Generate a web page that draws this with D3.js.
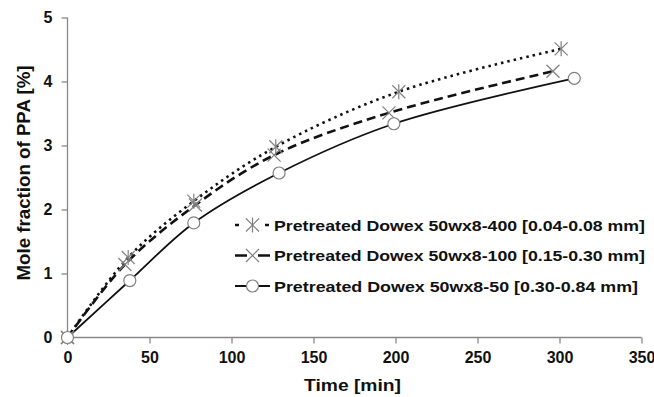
<!DOCTYPE html>
<html>
<head>
<meta charset="utf-8">
<script src="https://cdn.jsdelivr.net/npm/d3@7"></script>
<style>
  body { margin: 0; background: #fff; }
  svg text { font-family: "Liberation Sans", Arial, sans-serif; font-weight: bold; fill: #111; }
  .axis path, .axis line { stroke: #888; stroke-width: 1.3; }
</style>
</head>
<body>
<div id="chart-area"><svg></svg></div>
<script>
const chartSize = { width: 654, height: 397 };
const margin = { left: 67.5, right: 12.5, top: 17.5, bottom: 59.5 };
const width = chartSize.width - margin.left - margin.right;
const height = chartSize.height - margin.top - margin.bottom;

const xTicks = [0, 50, 100, 150, 200, 250, 300, 350];
const yTicks = [0, 1, 2, 3, 4, 5];

const seriesNames = [
  "Pretreated Dowex 50wx8-400 [0.04-0.08 mm]",
  "Pretreated Dowex 50wx8-100 [0.15-0.30 mm]",
  "Pretreated Dowex 50wx8-50 [0.30-0.84 mm]"
];
const time400 = [0, 37, 77, 127, 202, 301];
const frac400 = [0, 1.25, 2.13, 2.98, 3.84, 4.51];
const time100 = [0, 35, 78, 126, 196, 296];
const frac100 = [0, 1.14, 2.07, 2.85, 3.51, 4.16];
const time50 = [0, 38, 77, 129, 199, 309];
const frac50 = [0, 0.89, 1.79, 2.57, 3.34, 4.05];

const series = [
  { name: seriesNames[0], t: time400, v: frac400, dash: "2.5,4", legendDash: "4,26", marker: "star", textLen: 371 },
  { name: seriesNames[1], t: time100, v: frac100, dash: "9,5", legendDash: "12,11", marker: "cross", textLen: 371 },
  { name: seriesNames[2], t: time50, v: frac50, dash: null, legendDash: null, marker: "circle", textLen: 364 }
];

const drawMarker = (g, type, cx, cy) => {
  const m = g.append("g")
    .attr("transform", `translate(${cx},${cy})`)
    .attr("stroke", "#808080")
    .attr("stroke-width", 1.2)
    .attr("fill", "none");
  if (type === "circle") {
    m.append("circle").attr("r", 6).attr("fill", "#fff");
  } else {
    const r = 6.5;
    m.append("line").attr("x1", -r).attr("y1", -r).attr("x2", r).attr("y2", r);
    m.append("line").attr("x1", -r).attr("y1", r).attr("x2", r).attr("y2", -r);
    if (type === "star") {
      m.append("line").attr("x1", 0).attr("y1", -r - 1).attr("x2", 0).attr("y2", r + 1);
    }
  }
};

const main = () => {
  const svg = d3.select("#chart-area svg")
    .attr("width", chartSize.width)
    .attr("height", chartSize.height);

  const g = svg.append("g")
    .attr("transform", `translate(${margin.left},${margin.top})`);

  const x = d3.scaleLinear().domain([0, 350]).range([0, width]);
  const y = d3.scaleLinear().domain([0, 5]).range([height, 0]);

  g.append("g")
    .attr("class", "axis x-axis")
    .attr("transform", `translate(0,${height})`)
    .call(d3.axisBottom(x).tickValues(xTicks).tickSize(6).tickPadding(8).tickFormat(d3.format("d")))
    .call(a => a.select(".domain").attr("d", `M0,0H${width}`))
    .call(a => a.selectAll("text").attr("font-size", 16).attr("font-family", null));

  g.append("g")
    .attr("class", "axis y-axis")
    .call(d3.axisLeft(y).tickValues(yTicks).tickSize(6).tickPadding(9).tickFormat(d3.format("d")))
    .call(a => a.select(".domain").attr("d", `M0,${height}V0`))
    .call(a => a.selectAll("text").attr("font-size", 16).attr("font-family", null));

  g.append("text")
    .attr("transform", `translate(${24 - margin.left},${155.5}) rotate(-90)`)
    .attr("text-anchor", "middle")
    .attr("dy", "0.35em")
    .attr("textLength", 215)
    .attr("lengthAdjust", "spacingAndGlyphs")
    .style("font-size", "18px")
    .text("Mole fraction of PPA [%]");

  g.append("text")
    .attr("x", x(175) - 2)
    .attr("y", height + 53)
    .attr("text-anchor", "middle")
    .attr("textLength", 97)
    .attr("lengthAdjust", "spacingAndGlyphs")
    .style("font-size", "17px")
    .text("Time [min]");

  const line = d3.line()
    .x(d => x(d[0]))
    .y(d => y(d[1]))
    .curve(d3.curveCatmullRom.alpha(0.5));

  series.forEach(s => {
    const pts = s.t.map((t, i) => [t, s.v[i]]);
    g.append("path")
      .attr("d", line(pts))
      .attr("fill", "none")
      .attr("stroke", "#111")
      .attr("stroke-width", s.dash ? 2.6 : 1.8)
      .attr("stroke-dasharray", s.dash);
  });

  series.forEach(s => {
    s.t.forEach((t, i) => drawMarker(g, s.marker, x(t), y(s.v[i])));
  });

  const legend = svg.append("g").attr("transform", "translate(235,225)");
  series.forEach((s, i) => {
    const row = legend.append("g").attr("transform", `translate(0,${i * 30.5})`);
    row.append("line")
      .attr("x1", 0).attr("x2", 35).attr("y1", 0).attr("y2", 0)
      .attr("stroke", "#111")
      .attr("stroke-width", s.dash ? 2.6 : 1.8)
      .attr("stroke-dasharray", s.legendDash);
    drawMarker(row, s.marker, 17.5, 0);
    row.append("text")
      .attr("x", 39)
      .attr("y", 0)
      .attr("dy", "0.36em")
      .attr("textLength", s.textLen)
      .attr("lengthAdjust", "spacingAndGlyphs")
      .style("font-size", "15.5px")
      .text(s.name);
  });
};

window.onload = main;
</script>
</body>
</html>
